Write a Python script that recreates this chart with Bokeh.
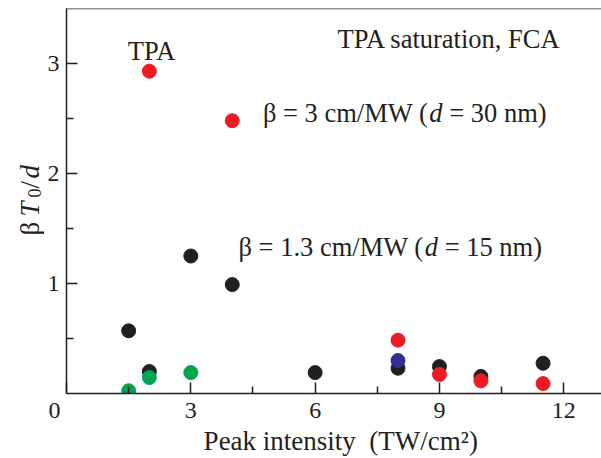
import math
from bokeh.plotting import figure
from bokeh.layouts import row
from bokeh.models import Range1d, FixedTicker, Label, Span
from bokeh.core.properties import value
from bokeh.embed import file_html
from bokeh.resources import INLINE

# ---- data ----
black_x = [1.5, 2, 3, 4, 6, 8, 9, 10, 11.5]
black_y = [0.57, 0.20, 1.25, 0.99, 0.19, 0.23, 0.245, 0.155, 0.275]
green_x = [1.5, 2, 3]
green_y = [0.025, 0.145, 0.19]
blue_x = [8]
blue_y = [0.30]
red_x = [2, 4, 8, 9, 10, 11.5]
red_y = [2.93, 2.48, 0.485, 0.173, 0.115, 0.09]

x_ticks = [0, 3, 6, 9, 12]
x_minor = [1.5, 4.5, 7.5, 10.5]
y_ticks = [1, 2, 3]
y_minor = [0.5, 1.5, 2.5]

NB = "\u00a0"
x_title = "Peak intensity" + NB + " (TW/cm\u00b2)"
note_top = "TPA saturation, FCA"
note_tpa = "TPA"
note_b3 = ["\u03b2 = 3 cm/MW (", "d", NB + "= 30 nm)"]
note_b13 = ["\u03b2 = 1.3 cm/MW (", "d", NB + "= 15 nm)"]
y_title = [("\u03b2", "normal"), ("T", "italic"), ("0", "normal"), ("/", "normal"), ("d", "italic")]

FONT = "Liberation Serif"
INK = "#231F20"
RED = "#ED1C24"
GREEN = "#00A651"
BLUE = "#2E3192"

W = {' ': 0.25, NB: 0.25, '=': 0.564, '(': 0.333, ')': 0.333, '/': 0.278, '.': 0.25,
     ',': 0.25, 'c': 0.444, 'm': 0.778, 'n': 0.5, 'M': 0.889, 'W': 0.944,
     '\u03b2': 0.55, 'd': 0.5}


def text_w(s, fs):
    return sum(W.get(ch, 0.5) for ch in s) * fs


LEFT_W = 44
H = 458
FRAME_TOP = 8
FRAME_BOT = 393

# ---------- narrow strip holding the y-axis title ----------
# (its frame is aligned with the main frame by the row layout)
pl = figure(width=LEFT_W, height=H, output_backend="svg", toolbar_location=None,
            x_range=Range1d(0, LEFT_W), y_range=Range1d(H - FRAME_BOT, H - FRAME_TOP),
            x_axis_location=None, y_axis_location=None,
            min_border=0, min_border_left=0, min_border_right=0,
            min_border_top=FRAME_TOP, min_border_bottom=H - FRAME_BOT)
pl.outline_line_color = None
pl.grid.visible = False
pl.background_fill_color = "white"
pl.border_fill_color = "white"

yt_x = [29, 29, 34, 29, 29]
yt_y = [235, 216, 197, 188, 178]
yt_fs = [27, 27, 18, 27, 27]
for (s, st), xx, yy, fs in zip(y_title, yt_x, yt_y, yt_fs):
    pl.text(x=[xx], y=[H - yy], text=[s], angle=math.pi / 2,
            text_font=value(FONT), text_font_size=value(f"{fs}px"),
            text_font_style=st, text_color=INK,
            text_align="left", text_baseline="alphabetic")

# ---------- main plot ----------
p = figure(width=601 - LEFT_W, height=H, output_backend="svg", toolbar_location=None,
           x_range=Range1d(0, 12.91), y_range=Range1d(0, 3.5),
           min_border_left=66 - LEFT_W, min_border_right=0, min_border_top=FRAME_TOP,
           min_border_bottom=H - FRAME_BOT)
p.outline_line_color = None
p.grid.visible = False
p.background_fill_color = "white"
p.border_fill_color = "white"

for ax in (p.xaxis[0], p.yaxis[0]):
    ax.axis_line_color = INK
    ax.axis_line_width = 1.5
    ax.major_tick_in = 11
    ax.major_tick_out = 0
    ax.minor_tick_in = 7
    ax.minor_tick_out = 0
    ax.major_tick_line_color = INK
    ax.minor_tick_line_color = INK
    ax.major_tick_line_width = 1.5
    ax.minor_tick_line_width = 1.5
    ax.major_label_text_font = FONT
    ax.major_label_text_font_size = "24px"
    ax.major_label_text_color = INK

p.xaxis.ticker = FixedTicker(ticks=x_ticks, minor_ticks=x_minor)
p.yaxis.ticker = FixedTicker(ticks=y_ticks, minor_ticks=y_minor)
p.xaxis.major_label_overrides = {0: "0" + NB * 4}
p.xaxis.major_label_standoff = 3
p.yaxis.major_label_standoff = 7
p.xaxis.axis_label = NB + NB + x_title
p.xaxis.axis_label_text_font = FONT
p.xaxis.axis_label_text_font_size = "27px"
p.xaxis.axis_label_text_font_style = "normal"
p.xaxis.axis_label_text_color = INK
p.xaxis.axis_label_standoff = 0

p.add_layout(Span(location=3.5, dimension="width", line_color=INK, line_width=1.5))

# points
p.scatter(black_x, black_y, size=14, fill_color=INK, line_color=INK)
p.scatter(green_x, green_y, size=14, fill_color=GREEN, line_color=GREEN)
p.scatter(blue_x, blue_y, size=14, fill_color=BLUE, line_color=BLUE)
p.scatter(red_x, red_y, size=14, fill_color=RED, line_color=RED)


def lab(text, x, y, fs, xo=0, style="normal"):
    p.add_layout(Label(x=x, y=y, x_offset=xo, y_offset=7, text=text,
                       text_font=FONT, text_font_size=f"{fs}px",
                       text_font_style=style, text_color=INK,
                       text_align="left", text_baseline="alphabetic"))


FS = 26.5
lab(note_tpa, 1.48, 3.05, FS)
lab(note_top, 6.54, 3.16, FS)


def mixed(parts, x, y):
    off = 0
    for i, s in enumerate(parts):
        lab(s, x, y, FS, xo=off, style="italic" if i == 1 else "normal")
        off += text_w(s, FS)


mixed(note_b3, 4.74, 2.49)
mixed(note_b13, 4.15, 1.27)

layout = row(pl, p, spacing=0)
with open("out.html", "w", encoding="utf-8") as f:
    f.write(file_html(layout, INLINE))
